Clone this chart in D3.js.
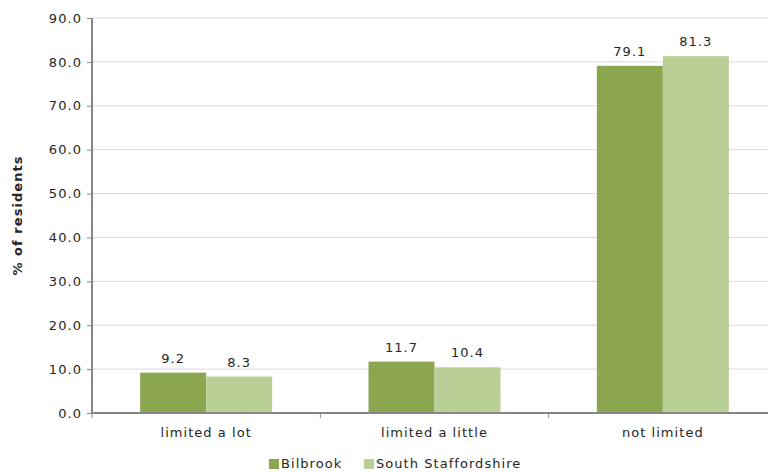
<!DOCTYPE html>
<html><head><meta charset="utf-8">
<script src="https://cdn.jsdelivr.net/npm/d3@7"></script>
<style>body{margin:0;background:#fff;} svg{display:block;font-family:"DejaVu Sans",Verdana,sans-serif;}</style>
</head><body>
<svg id="c" width="768" height="472"></svg>
<script>
const categories = ["limited a lot", "limited a little", "not limited"];
const seriesNames = ["Bilbrook", "South Staffordshire"];
const bilbrook = [9.2, 11.7, 79.1];
const southStaffs = [8.3, 10.4, 81.3];
const yTicks = [0, 10, 20, 30, 40, 50, 60, 70, 80, 90];
const colors = ["#8ba64f", "#b9cf95"];

const LS = "1.05px";
const svg = d3.select("#c");
const L = 92, R = 777, T = 18, B = 413;
const x = d3.scaleBand().domain(categories).range([L, R]);
const x1 = d3.scaleBand().domain(seriesNames).range([0, 132]);
const y = d3.scaleLinear().domain([0, 90]).range([B, T]);

// gridlines
svg.append("g").selectAll("line").data(yTicks.slice(1)).join("line")
  .attr("x1", L).attr("x2", R).attr("y1", d => y(d)).attr("y2", d => y(d))
  .attr("stroke", "#d9d9d9").attr("stroke-width", 1);

const series = [bilbrook, southStaffs];
const groups = svg.append("g").selectAll("g").data(categories).join("g")
  .attr("transform", d => `translate(${x(d) + x.bandwidth()/2 - 66},0)`);
groups.selectAll("rect").data((d, i) => seriesNames.map((s, j) => ({s, v: series[j][i]}))).join("rect")
  .attr("x", d => x1(d.s)).attr("width", x1.bandwidth())
  .attr("y", d => y(d.v)).attr("height", d => B - y(d.v))
  .attr("fill", (d, j) => colors[j]);
groups.selectAll("text").data((d, i) => seriesNames.map((s, j) => ({s, v: series[j][i]}))).join("text")
  .attr("x", d => x1(d.s) + x1.bandwidth()/2).attr("y", d => y(d.v) - 10)
  .attr("text-anchor", "middle").attr("font-size", 13).attr("fill", "#262626")
  .style("letter-spacing", LS)
  .text(d => d.v.toFixed(1));

// y axis
const ya = svg.append("g").attr("transform", `translate(${L},0)`)
  .call(d3.axisLeft(y).tickValues(yTicks).tickFormat(d3.format(".1f")).tickSize(5).tickPadding(5));
ya.select(".domain").attr("stroke", "#868686").attr("stroke-width", 2).attr("d", `M0,${T}V${B}`);
ya.selectAll(".tick line").attr("stroke", "#868686");
ya.selectAll("text").attr("font-size", 13).attr("fill", "#262626").attr("font-family", "DejaVu Sans, Verdana, sans-serif").style("letter-spacing", LS);

// x axis
const xa = svg.append("g").attr("transform", `translate(0,${B})`)
  .call(d3.axisBottom(x).tickSize(0).tickPadding(15));
xa.select(".domain").attr("stroke", "#868686").attr("stroke-width", 2).attr("d", `M${L},0H${R}`);
xa.selectAll("text").attr("font-size", 13).attr("fill", "#262626").attr("font-family", "DejaVu Sans, Verdana, sans-serif").style("letter-spacing", LS);
svg.append("g").selectAll("line").data([L, ...categories.map(c => x(c) + x.bandwidth())]).join("line")
  .attr("x1", d => d).attr("x2", d => d).attr("y1", B).attr("y2", B + 5)
  .attr("stroke", "#868686");

// y title
svg.append("text").attr("transform", `translate(22,${(T+B)/2}) rotate(-90)`)
  .attr("text-anchor", "middle").attr("font-size", 13).attr("font-weight", "bold").attr("fill", "#262626")
  .style("letter-spacing", LS)
  .text("% of residents");

// legend
const legX = [269, 364];
const lg = svg.append("g").selectAll("g").data(seriesNames).join("g")
  .attr("transform", (d, i) => `translate(${legX[i]},468)`);
lg.append("rect").attr("x", 0).attr("y", -9).attr("width", 10).attr("height", 10).attr("fill", (d, i) => colors[i]);
lg.append("text").attr("x", 12).attr("y", 0).attr("font-size", 13).attr("fill", "#262626").style("letter-spacing", LS).text(d => d);
</script>
</body></html>
